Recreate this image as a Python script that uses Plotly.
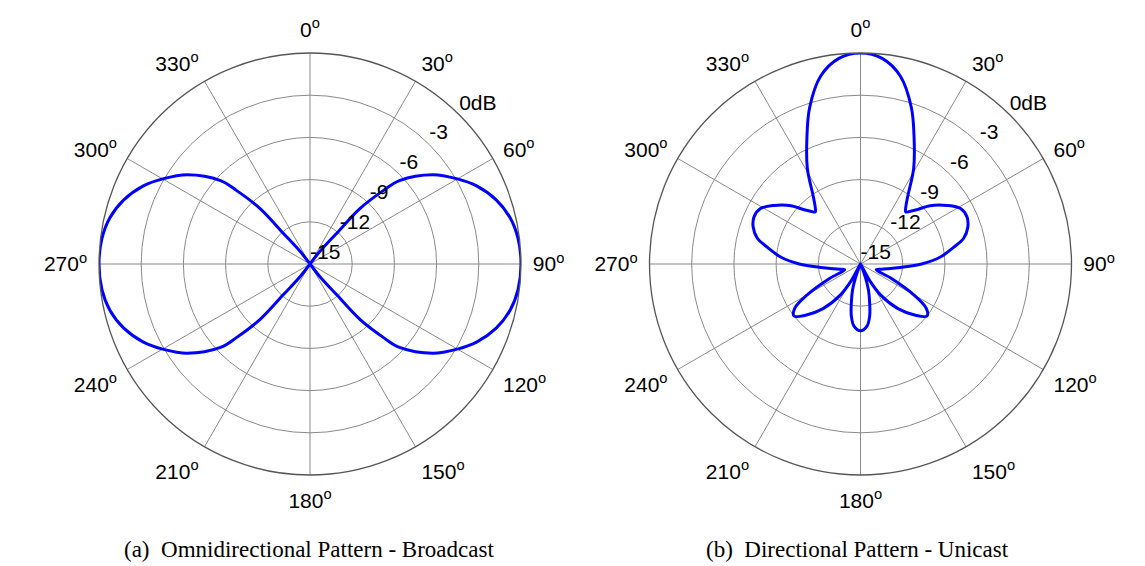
import plotly.graph_objects as go

# ---------------- data ----------------
angle_ticks = list(range(0, 360, 30))
angle_labels = [f"{a}<sup>o</sup>" for a in angle_ticks]
ring_values = [-15, -12, -9, -6, -3, 0]
ring_labels = ["-15", "-12", "-9", "-6", "-3", "0dB"]

# (a) omnidirectional pattern (degrees, dB)
omni_theta = [0, 15, 30, 36, 38, 41, 42, 45, 47, 54, 60, 65, 71, 77, 83, 90,
              97, 103, 109, 115, 120, 126, 133, 135, 138, 139, 142, 144, 150, 165,
              180, 195, 210, 216, 218, 221, 222, 225, 227, 234, 240, 245, 251, 257, 263, 270,
              277, 283, 289, 295, 300, 306, 313, 315, 318, 319, 322, 324, 330, 345, 360]
omni_gain_db = [-15, -15, -15, -15, -13.9, -12.1, -9.7, -7.6, -6.3, -4.2, -2.9, -1.9, -1.0, -0.4, -0.1, 0,
                -0.1, -0.4, -1.0, -1.9, -2.9, -4.2, -6.3, -7.6, -9.7, -12.1, -13.9, -15, -15, -15,
                -15, -15, -15, -15, -13.9, -12.1, -9.7, -7.6, -6.3, -4.2, -2.9, -1.9, -1.0, -0.4, -0.1, 0,
                -0.1, -0.4, -1.0, -1.9, -2.9, -4.2, -6.3, -7.6, -9.7, -12.1, -13.9, -15, -15, -15, -15]

# (b) directional pattern (degrees, dB)
dir_theta = [0, 6, 12, 18, 23, 29, 35, 39, 41, 43, 46, 50, 56, 61, 66, 71, 76, 80, 85, 90,
             95, 100, 105, 110, 115, 120, 124, 128, 133, 140, 147, 151, 154, 157, 160, 163, 167, 170, 174,
             180,
             186, 190, 193, 197, 200, 203, 206, 209, 213, 220, 227, 232, 236, 240, 245, 250, 255, 260, 265,
             270, 275, 280, 284, 289, 294, 299, 304, 310, 314, 317, 319, 321, 325, 331, 337, 342, 348, 354, 360]
dir_gain_db = [0, -0.3, -1.35, -3.3, -5.25, -7.2, -9.15, -9.9, -10.1, -9.9, -9.45, -8.55, -7.56, -6.87, -6.72,
               -6.93, -7.44, -8.31, -9.3, -10.65,
               -12.15, -13.05, -13.56, -13.8, -12.6, -10.65, -9.36, -9.0, -9.66, -10.86, -12.36, -13.65, -15,
               -14.7, -13.95, -13.05, -12.09, -11.25, -10.56,
               -10.26,
               -10.56, -11.25, -12.09, -13.05, -13.95, -14.7, -15, -13.65, -12.36, -10.86, -9.66, -9.0, -9.36,
               -10.65, -12.6, -13.8, -13.56, -13.05, -12.15,
               -10.65, -9.3, -8.31, -7.44, -6.93, -6.72, -6.87, -7.56, -8.55, -9.45, -9.9, -10.1, -9.9, -9.15,
               -7.2, -5.25, -3.3, -1.35, -0.3, 0]

captions = ["(a)  Omnidirectional Pattern - Broadcast", "(b)  Directional Pattern - Unicast"]

# ---------------- figure ----------------
W, H = 1145, 566
PAGE_MARGIN = 8          # default <body> margin of the written html page
R = 211                  # polar radius in px
centers = [(310, 264), (860.5, 264)]        # on-screen centres
caption_pos = [(309, 549), (857, 549)]      # on-screen caption centres
LABEL_ANGLE = 45


def px_x(x):
    return (x - PAGE_MARGIN) / W


def px_y(y):
    return 1 - (y - PAGE_MARGIN) / H


fig = go.Figure()
patterns = [(omni_theta, omni_gain_db), (dir_theta, dir_gain_db)]
for i, (th, g) in enumerate(patterns):
    sp = "polar" if i == 0 else "polar2"
    fig.add_trace(go.Scatterpolar(r=g, theta=th, mode="lines",
                                  line=dict(color="#0000ff", width=3, shape="spline", smoothing=1.0),
                                  subplot=sp, showlegend=False, hoverinfo="skip"))
    fig.add_trace(go.Scatterpolar(r=ring_values, theta=[LABEL_ANGLE] * len(ring_values),
                                  mode="text", text=ring_labels, textposition="top right",
                                  textfont=dict(family="Liberation Sans, Arial", size=21, color="black"),
                                  cliponaxis=False, subplot=sp, showlegend=False, hoverinfo="skip"))

layout_polars = {}
for i, (cx, cy) in enumerate(centers):
    key = "polar" if i == 0 else "polar2"
    layout_polars[key] = dict(
        domain=dict(x=[px_x(cx - R), px_x(cx + R)], y=[px_y(cy + R), px_y(cy - R)]),
        bgcolor="white",
        angularaxis=dict(rotation=90, direction="clockwise",
                         tickmode="array", tickvals=angle_ticks, ticktext=angle_labels,
                         tickfont=dict(family="Liberation Sans, Arial", size=21, color="black"),
                         showline=True, linecolor="#555555", linewidth=1.3,
                         gridcolor="#8a8a8a", gridwidth=1,
                         ticks="outside", ticklen=7, tickcolor="rgba(0,0,0,0)", showgrid=True),
        radialaxis=dict(range=[-15, 0], tickmode="array", tickvals=ring_values[1:],
                        showticklabels=False, ticks="", showline=False,
                        gridcolor="#8a8a8a", gridwidth=1),
    )

annotations = []
for (cx, cy), cap in zip(caption_pos, captions):
    annotations.append(dict(x=px_x(cx), y=px_y(cy), xref="paper", yref="paper",
                            text=cap, showarrow=False, xanchor="center", yanchor="middle",
                            font=dict(family="Liberation Serif, Times New Roman", size=23, color="black")))

fig.update_layout(width=W, height=H, margin=dict(l=0, r=0, t=0, b=0),
                  paper_bgcolor="white", plot_bgcolor="white",
                  annotations=annotations, **layout_polars)

fig.write_html("out.html")
